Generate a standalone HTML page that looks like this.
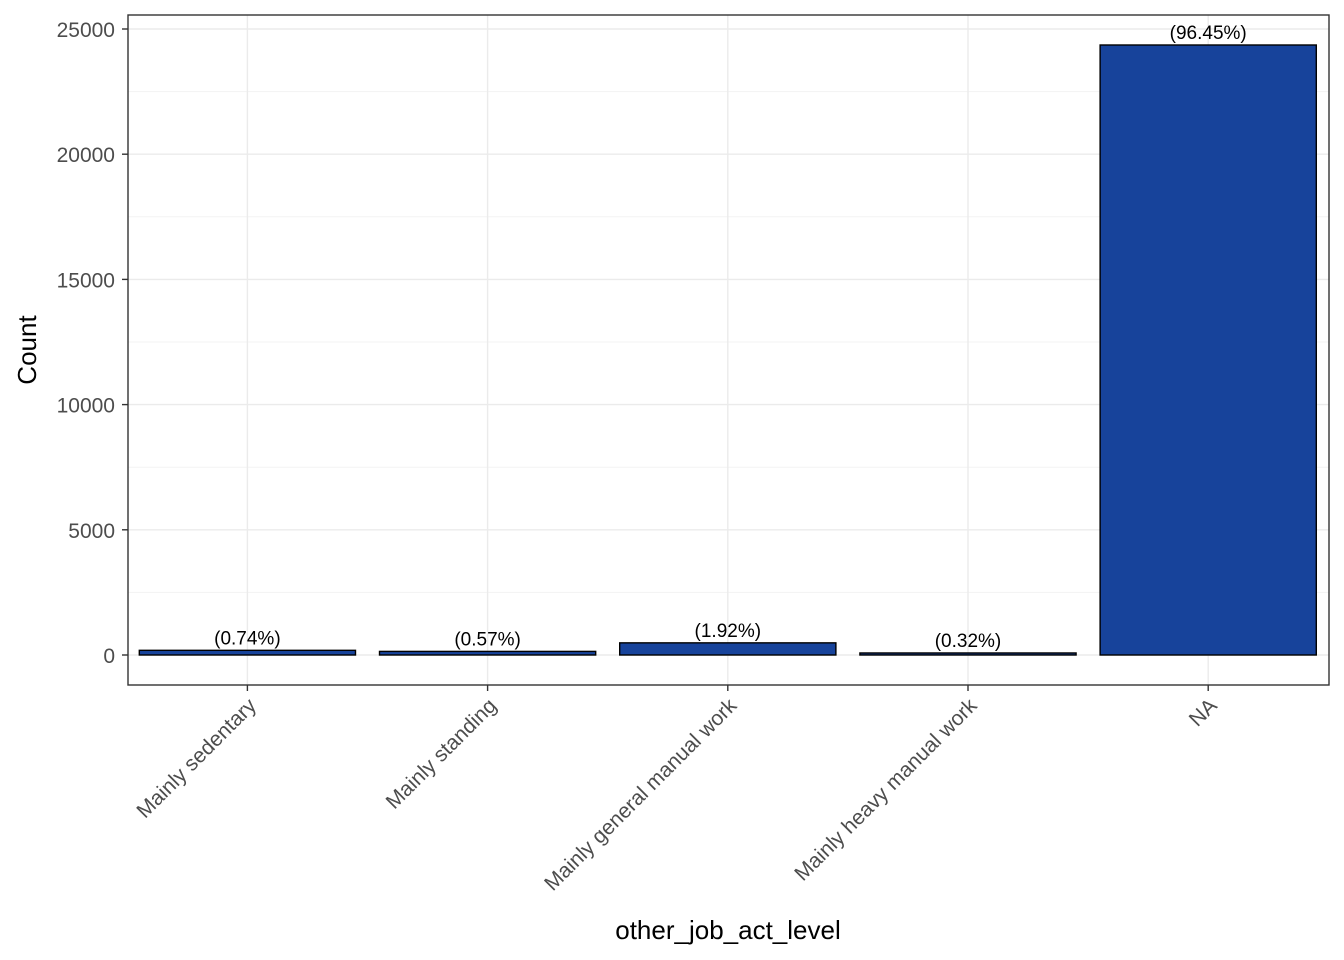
<!DOCTYPE html>
<html><head><meta charset="utf-8"><style>
html,body{margin:0;padding:0;background:#fff;}
svg{display:block;font-family:"Liberation Sans",Arial,sans-serif;}
</style></head><body>
<svg id="chart" width="1344" height="960"></svg>
<script>
const categories = ["Mainly sedentary","Mainly standing","Mainly general manual work","Mainly heavy manual work","NA"];
const counts = [187, 144, 485, 81, 24361];
const pctLabels = ["(0.74%)","(0.57%)","(1.92%)","(0.32%)","(96.45%)"];
const yTicks = [0, 5000, 10000, 15000, 20000, 25000];
const yMinor = [2500, 7500, 12500, 17500, 22500];

const NS = "http://www.w3.org/2000/svg";
const svg = document.getElementById("chart");
const P = {l:128, r:1329, t:15, b:685};
const y0 = 655, yScale = 626/25000;
const y = v => y0 - v*yScale;
const step = (P.r-P.l)/categories.length;
const x = i => P.l + step*(i+0.5) - 0.7;
const bw = step*0.9;

function mk(tag, attrs, parent){
  const e = document.createElementNS(NS, tag);
  for (const k in attrs) e.setAttribute(k, attrs[k]);
  (parent||svg).appendChild(e);
  return e;
}
const grid = mk("g", {});


yMinor.forEach(v => mk("line", {x1:P.l,x2:P.r,y1:y(v),y2:y(v),stroke:"#f3f3f3","stroke-width":1}, grid));
yTicks.forEach(v => mk("line", {x1:P.l,x2:P.r,y1:y(v),y2:y(v),stroke:"#ebebeb","stroke-width":1.4}, grid));
categories.forEach((c,i) => mk("line", {x1:x(i),x2:x(i),y1:P.t,y2:P.b,stroke:"#ebebeb","stroke-width":1.4}, grid));

categories.forEach((c,i) => {
  const r = mk("rect", {x:x(i)-bw/2, y:y(counts[i]), width:bw, height:y(0)-y(counts[i]), fill:"#17439b", stroke:"#000", "stroke-width":1.4});
  
  
  const t = mk("text", {x:x(i), y:y(counts[i])-6, "text-anchor":"middle", "font-size":19, fill:"#000"});
  t.textContent = pctLabels[i];
  
  
  mk("line", {x1:x(i),x2:x(i),y1:P.b,y2:P.b+6,stroke:"#333","stroke-width":1.4});
  const xl = mk("text", {x:0,y:0,"text-anchor":"end","font-size":21,fill:"#4d4d4d",transform:`translate(${x(i)+10},${P.b+22}) rotate(-45)`});
  xl.textContent = c;
  
  
});

yTicks.forEach(v => {
  mk("line", {x1:P.l-6,x2:P.l,y1:y(v),y2:y(v),stroke:"#333","stroke-width":1.4});
  const t = mk("text", {x:P.l-13, y:y(v)+8, "text-anchor":"end","font-size":21,fill:"#4d4d4d"});
  t.textContent = v;
  
  
});

const border = mk("rect", {x:P.l,y:P.t,width:P.r-P.l,height:P.b-P.t,fill:"none",stroke:"#333","stroke-width":1.4});



const yt = mk("text", {x:0,y:0,"text-anchor":"middle","font-size":26,fill:"#000",transform:`translate(36,350) rotate(-90)`});
yt.textContent = "Count";


const xt = mk("text", {x:728,y:939,"text-anchor":"middle","font-size":26,fill:"#000"});
xt.textContent = "other_job_act_level";


</script>
</body></html>
